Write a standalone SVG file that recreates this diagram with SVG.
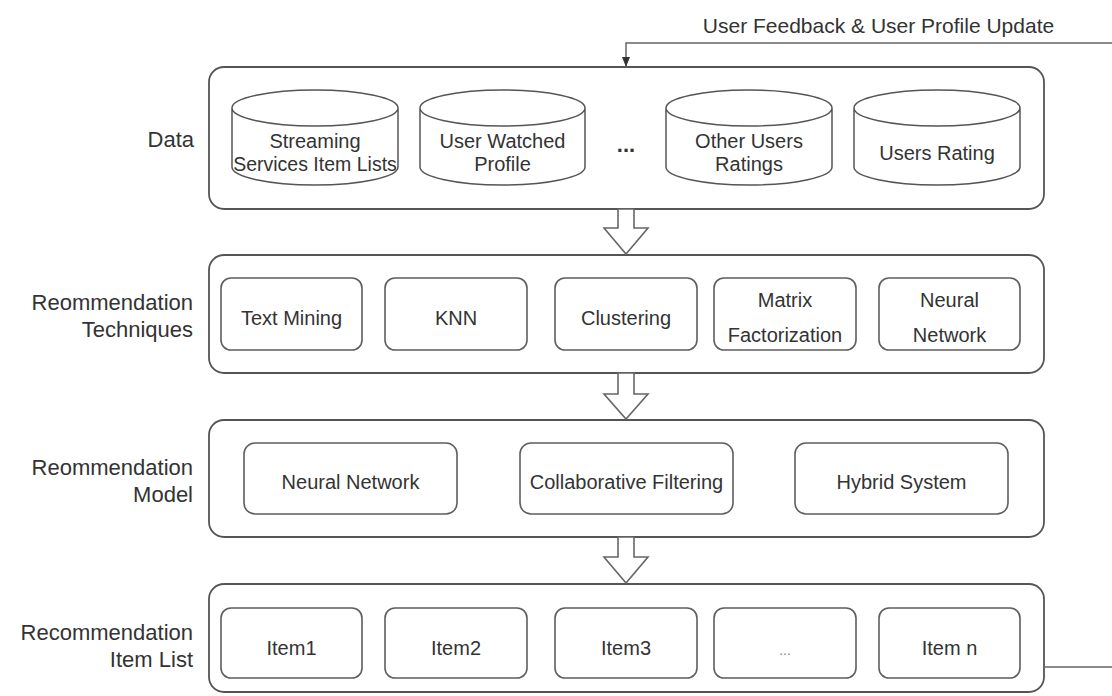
<svg xmlns="http://www.w3.org/2000/svg" width="1112" height="696" viewBox="0 0 1112 696">
  <style>
    text { font-family: "Liberation Sans", Arial, sans-serif; fill: #333; }
    .lbl { font-size: 22px; text-anchor: end; }
    .nt { font-size: 20px; text-anchor: middle; }
    .layer { fill: #fff; stroke: #555; stroke-width: 1.8; }
    .box { fill: #fff; stroke: #5e5e5e; stroke-width: 1.6; }
    .cyl { fill: #fff; stroke: #555; stroke-width: 1.5; }
    .flow { fill: #fff; stroke: #666; stroke-width: 1.6; stroke-linejoin: miter; }
    .link { fill: none; stroke: #666; stroke-width: 1.5; }
  </style>
  <defs>
    <marker id="tri" markerUnits="userSpaceOnUse" markerWidth="10" markerHeight="10" viewBox="0 0 10 10" refX="10" refY="5" orient="auto">
      <path d="M0,1 L10,5 L0,9 z" fill="#333"/>
    </marker>
  </defs>

  <rect width="1112" height="696" fill="#fff"/>

  <!-- layer containers -->
  <g id="layer-data">
    <rect class="layer" x="209" y="67" width="835" height="142" rx="15"/>
    <text class="lbl" x="194" y="147">Data</text>
  </g>
  <g id="layer-techniques">
    <rect class="layer" x="209" y="255" width="835" height="118" rx="15"/>
    <text class="lbl" x="193" y="310">Reommendation</text>
    <text class="lbl" x="193" y="337">Techniques</text>
  </g>
  <g id="layer-model">
    <rect class="layer" x="209" y="420" width="835" height="117" rx="15"/>
    <text class="lbl" x="193" y="475">Reommendation</text>
    <text class="lbl" x="193" y="502">Model</text>
  </g>
  <g id="layer-items">
    <rect class="layer" x="209" y="584" width="835" height="108" rx="15"/>
    <text class="lbl" x="193" y="640">Recommendation</text>
    <text class="lbl" x="193" y="667">Item List</text>
  </g>

  <!-- data stores -->
  <g id="db-streaming">
    <path class="cyl" d="M232,108 a83,18 0 0 1 166,0 v59 a83,18 0 0 1 -166,0 z M232,108 a83,18 0 0 0 166,0"/>
    <text class="nt" x="315" y="148">Streaming</text>
    <text class="nt" x="315" y="171" style="font-size:19.5px">Services Item Lists</text>
  </g>
  <g id="db-watched">
    <path class="cyl" d="M420,108 a82.5,18 0 0 1 165,0 v59 a82.5,18 0 0 1 -165,0 z M420,108 a82.5,18 0 0 0 165,0"/>
    <text class="nt" x="502.5" y="148">User Watched</text>
    <text class="nt" x="502.5" y="171">Profile</text>
  </g>
  <g id="db-more">
    <text class="nt" x="626" y="152" style="font-weight:bold;font-size:22px">...</text>
  </g>
  <g id="db-other-ratings">
    <path class="cyl" d="M666,108 a83,18 0 0 1 166,0 v59 a83,18 0 0 1 -166,0 z M666,108 a83,18 0 0 0 166,0"/>
    <text class="nt" x="749" y="148">Other Users</text>
    <text class="nt" x="749" y="171">Ratings</text>
  </g>
  <g id="db-users-rating">
    <path class="cyl" d="M854,108 a83,18 0 0 1 166,0 v59 a83,18 0 0 1 -166,0 z M854,108 a83,18 0 0 0 166,0"/>
    <text class="nt" x="937" y="160">Users Rating</text>
  </g>

  <!-- techniques -->
  <g id="tech-text-mining">
    <rect class="box" x="221" y="278" width="141" height="72" rx="10"/>
    <text class="nt" x="291.5" y="325">Text Mining</text>
  </g>
  <g id="tech-knn">
    <rect class="box" x="385" y="278" width="142" height="72" rx="10"/>
    <text class="nt" x="456" y="325">KNN</text>
  </g>
  <g id="tech-clustering">
    <rect class="box" x="555" y="278" width="142" height="72" rx="10"/>
    <text class="nt" x="626" y="325">Clustering</text>
  </g>
  <g id="tech-matrix">
    <rect class="box" x="714" y="278" width="142" height="72" rx="10"/>
    <text class="nt" x="785" y="307">Matrix</text>
    <text class="nt" x="785" y="342">Factorization</text>
  </g>
  <g id="tech-neural">
    <rect class="box" x="879" y="278" width="141" height="72" rx="10"/>
    <text class="nt" x="949.5" y="307">Neural</text>
    <text class="nt" x="949.5" y="342">Network</text>
  </g>

  <!-- models -->
  <g id="model-neural">
    <rect class="box" x="244" y="443" width="213" height="71" rx="11"/>
    <text class="nt" x="350.5" y="489">Neural Network</text>
  </g>
  <g id="model-cf">
    <rect class="box" x="520" y="443" width="213" height="71" rx="11"/>
    <text class="nt" x="626.5" y="489">Collaborative Filtering</text>
  </g>
  <g id="model-hybrid">
    <rect class="box" x="795" y="443" width="213" height="71" rx="11"/>
    <text class="nt" x="901.5" y="489">Hybrid System</text>
  </g>

  <!-- recommended items -->
  <g id="item-1">
    <rect class="box" x="221" y="608" width="141" height="70" rx="10"/>
    <text class="nt" x="291.5" y="655">Item1</text>
  </g>
  <g id="item-2">
    <rect class="box" x="385" y="608" width="142" height="70" rx="10"/>
    <text class="nt" x="456" y="655">Item2</text>
  </g>
  <g id="item-3">
    <rect class="box" x="555" y="608" width="142" height="70" rx="10"/>
    <text class="nt" x="626" y="655">Item3</text>
  </g>
  <g id="item-more">
    <rect class="box" x="714" y="608" width="142" height="70" rx="10"/>
    <text class="nt" x="785" y="655" style="font-size:14px;fill:#888">...</text>
  </g>
  <g id="item-n">
    <rect class="box" x="879" y="608" width="141" height="70" rx="10"/>
    <text class="nt" x="949.5" y="655">Item n</text>
  </g>

  <!-- connectors -->
  <g id="connectors">
    <polygon class="flow" points="618,209 634,209 634,228 648,228 626,254 604,228 618,228"/>
    <polygon class="flow" points="618,373 634,373 634,394 648,394 626,419 604,394 618,394"/>
    <polygon class="flow" points="618,537 634,537 634,557 648,557 626,583 604,557 618,557"/>
    <path class="link" d="M1044,667 H1130 V43 H626 V67" marker-end="url(#tri)"/>
    <text x="878.5" y="33" style="font-size:21px;text-anchor:middle">User Feedback &amp; User Profile Update</text>
  </g>
</svg>
